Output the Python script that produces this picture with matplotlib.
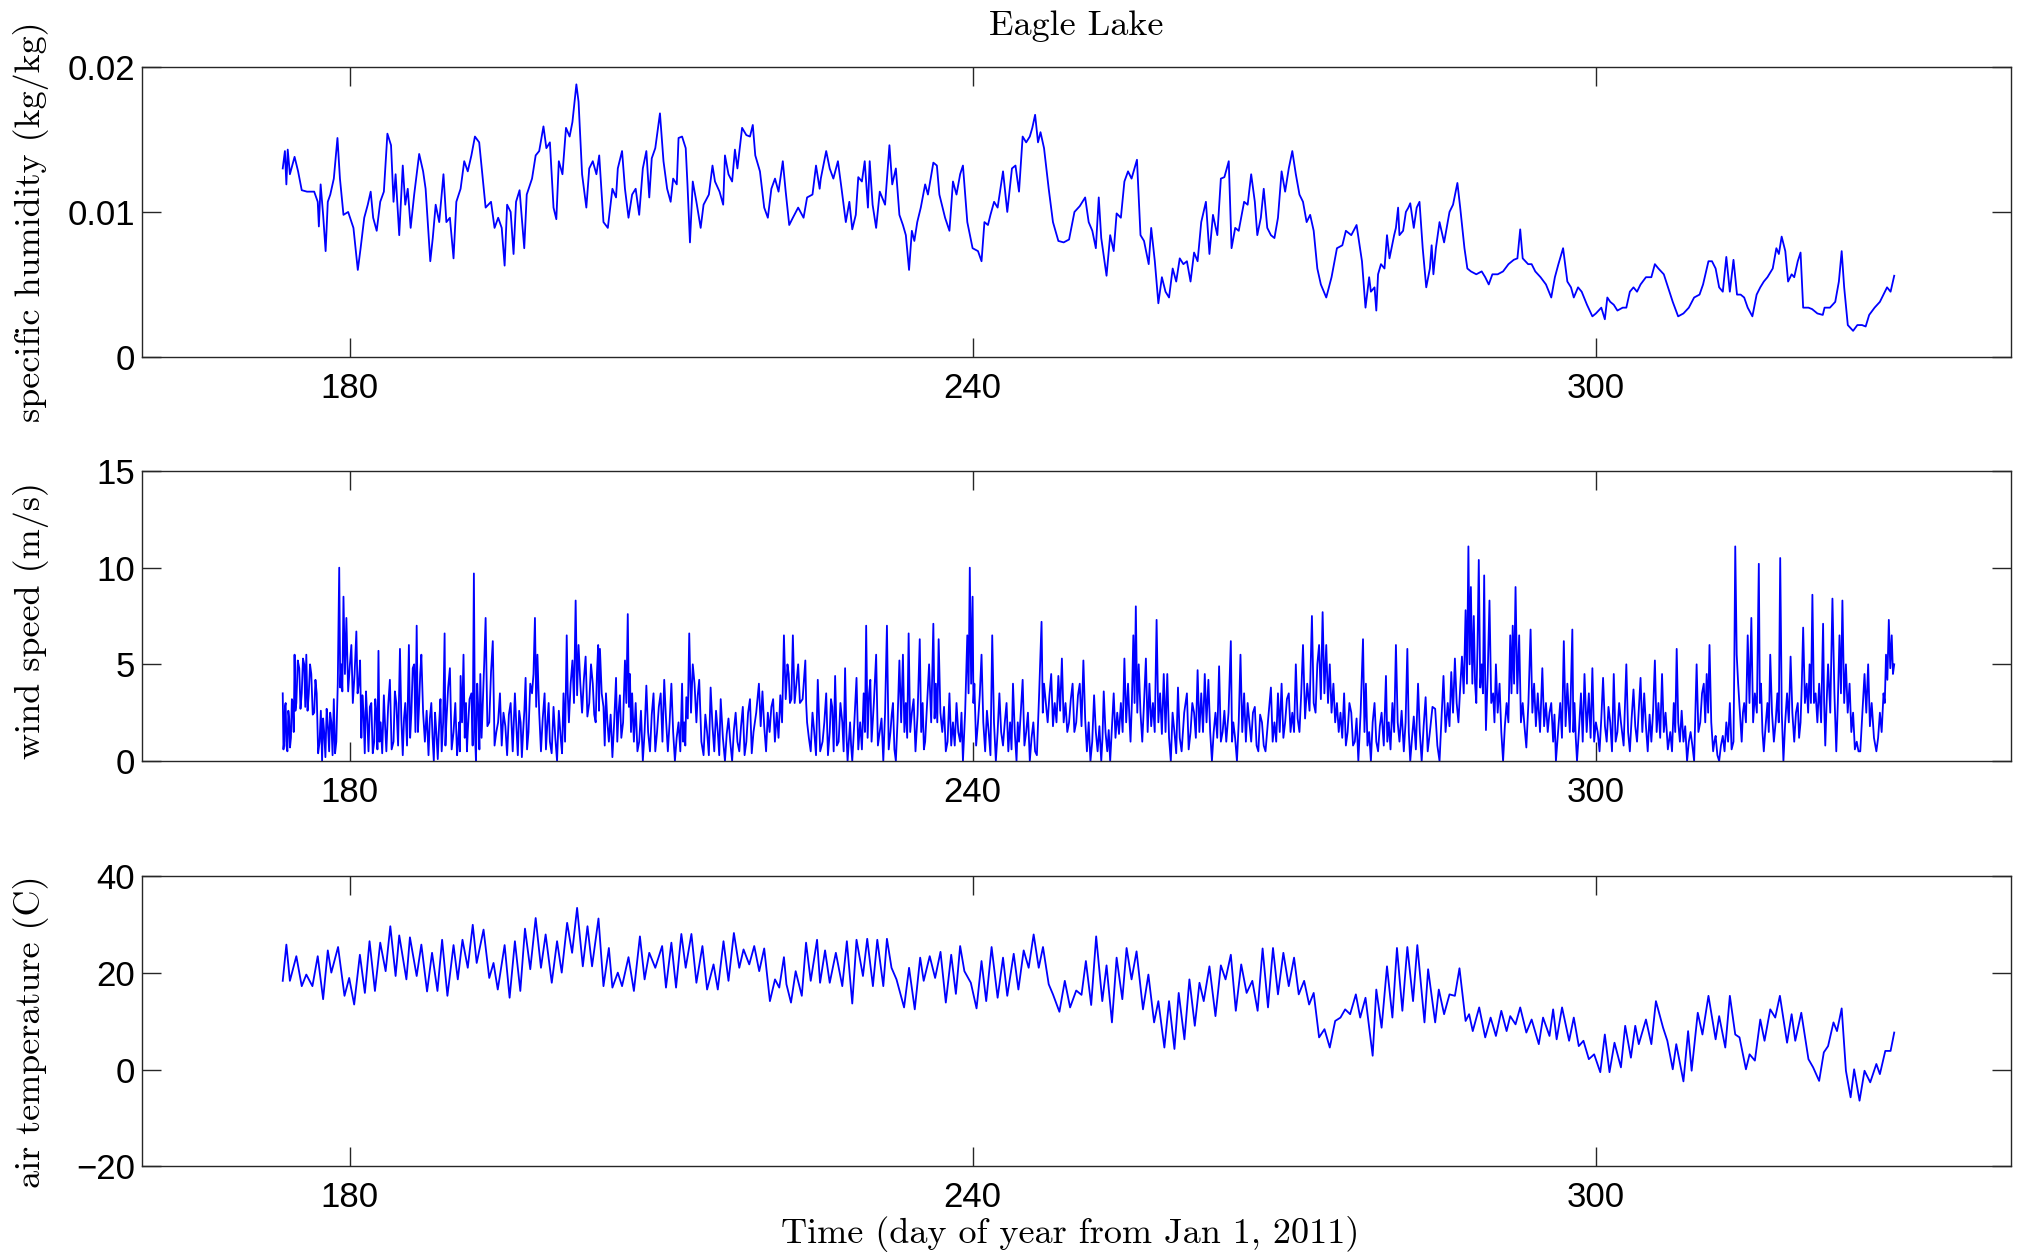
import matplotlib
matplotlib.use('Agg')
import matplotlib.pyplot as plt
import numpy as np

# specific humidity, (day of year, g/kg)
humidity_obs = [
    (173.56, 13.0), (173.77, 14.2), (173.91, 11.9), (174.04, 14.3), (174.25, 12.6), (174.70, 13.8),
    (175.04, 12.8), (175.39, 11.5), (175.90, 11.4), (176.59, 11.4), (176.93, 10.7), (177.04, 9.0),
    (177.21, 11.9), (177.45, 9.8), (177.69, 7.3), (177.90, 10.7), (178.14, 11.2), (178.48, 12.3),
    (178.83, 15.1), (179.07, 12.3), (179.41, 9.8), (179.86, 10.0), (180.37, 8.9), (180.79, 6.0),
    (181.06, 7.5), (181.41, 9.6), (181.75, 10.5), (182.03, 11.4), (182.27, 9.6), (182.61, 8.7),
    (182.95, 10.7), (183.30, 11.4), (183.64, 15.4), (183.99, 14.6), (184.23, 10.7), (184.43, 12.6),
    (184.78, 8.4), (185.12, 13.2), (185.36, 10.5), (185.60, 11.6), (185.88, 8.9), (186.22, 11.2),
    (186.70, 14.0), (187.08, 12.8), (187.32, 11.6), (187.77, 6.6), (188.01, 8.2), (188.29, 10.5),
    (188.63, 9.3), (189.04, 12.6), (189.32, 9.3), (189.66, 9.6), (190.01, 6.8), (190.28, 10.7),
    (190.69, 11.6), (191.04, 13.5), (191.38, 12.8), (191.73, 13.9), (192.07, 15.2), (192.48, 14.8),
    (192.76, 12.8), (193.10, 10.3), (193.62, 10.7), (193.96, 8.9), (194.31, 9.6), (194.65, 8.9),
    (194.93, 6.3), (195.17, 10.5), (195.51, 10.0), (195.79, 7.1), (196.03, 10.7), (196.37, 11.5),
    (196.82, 7.5), (197.06, 11.2), (197.57, 12.3), (197.92, 13.9), (198.26, 14.2), (198.67, 15.9),
    (198.95, 14.4), (199.29, 14.8), (199.64, 10.3), (199.91, 9.5), (200.15, 13.5), (200.50, 12.6),
    (200.84, 15.8), (201.19, 15.2), (201.46, 16.2), (201.84, 18.8), (202.05, 17.6), (202.39, 12.6),
    (202.80, 10.3), (203.08, 13.0), (203.42, 13.5), (203.77, 12.6), (204.04, 13.9), (204.45, 9.3),
    (204.87, 8.9), (205.31, 11.6), (205.66, 11.0), (205.83, 13.0), (206.24, 14.2), (206.52, 11.6),
    (206.86, 9.6), (207.21, 11.2), (207.55, 11.6), (207.89, 9.8), (208.24, 13.0), (208.58, 14.2),
    (208.86, 11.0), (209.10, 13.7), (209.44, 14.4), (209.89, 16.8), (210.23, 13.5), (210.58, 11.6),
    (210.92, 10.7), (211.16, 12.3), (211.51, 11.9), (211.68, 15.1), (212.02, 15.2), (212.37, 14.4),
    (212.54, 11.9), (212.78, 7.9), (213.05, 12.1), (213.40, 10.7), (213.81, 8.9), (214.09, 10.5),
    (214.60, 11.2), (214.95, 13.2), (215.19, 12.1), (215.63, 11.4), (215.98, 10.5), (216.15, 13.9),
    (216.49, 12.6), (216.84, 12.1), (217.11, 14.3), (217.35, 13.0), (217.80, 15.8), (218.21, 15.3),
    (218.56, 15.2), (218.83, 16.0), (219.07, 13.9), (219.52, 12.8), (219.93, 10.3), (220.28, 9.6),
    (220.62, 11.6), (220.97, 12.3), (221.31, 11.4), (221.72, 13.5), (222.00, 11.4), (222.34, 9.1),
    (222.69, 9.6), (223.20, 10.3), (223.72, 9.6), (224.06, 11.0), (224.58, 11.2), (224.92, 13.2),
    (225.27, 11.6), (225.38, 12.3), (225.90, 14.2), (226.24, 13.0), (226.59, 12.3), (227.03, 13.5),
    (227.38, 11.6), (227.79, 9.3), (228.13, 10.7), (228.41, 8.8), (228.75, 9.8), (228.99, 12.4),
    (229.34, 12.1), (229.61, 13.5), (229.92, 10.3), (230.09, 13.5), (230.37, 10.5), (230.71, 8.9),
    (231.06, 11.4), (231.57, 10.5), (231.99, 14.6), (232.26, 11.9), (232.61, 13.0), (232.95, 9.8),
    (233.29, 9.1), (233.57, 8.4), (233.88, 6.0), (234.15, 8.7), (234.39, 8.0), (234.67, 9.3),
    (235.01, 10.3), (235.43, 11.9), (235.70, 11.2), (236.22, 13.4), (236.56, 13.2), (236.80, 11.2),
    (237.35, 9.6), (237.77, 8.7), (238.11, 12.1), (238.45, 11.2), (238.80, 12.6), (239.07, 13.2),
    (239.49, 9.3), (240.00, 7.5), (240.52, 7.3), (240.86, 6.6), (241.14, 9.3), (241.48, 9.1),
    (241.72, 9.8), (242.07, 10.7), (242.41, 10.3), (242.93, 12.8), (243.34, 10.0), (243.79, 13.0),
    (244.13, 13.2), (244.47, 11.4), (244.82, 15.2), (245.16, 14.8), (245.51, 15.2), (245.75, 15.8),
    (246.02, 16.7), (246.30, 14.8), (246.54, 15.5), (246.88, 14.4), (247.33, 11.6), (247.74, 9.3),
    (248.26, 8.0), (248.77, 7.9), (249.29, 8.1), (249.81, 10.0), (250.32, 10.4), (250.84, 11.0),
    (251.18, 9.3), (251.53, 8.7), (251.87, 7.5), (252.15, 11.0), (252.39, 8.2), (252.90, 5.6),
    (253.25, 8.4), (253.59, 7.3), (253.87, 9.9), (254.28, 9.6), (254.62, 12.1), (254.97, 12.8),
    (255.31, 12.3), (255.83, 13.6), (256.17, 8.4), (256.51, 8.0), (256.96, 6.4), (257.20, 8.9),
    (257.55, 6.6), (257.89, 3.7), (258.23, 5.5), (258.58, 4.5), (258.92, 4.1), (259.27, 6.1),
    (259.61, 5.2), (259.95, 6.8), (260.30, 6.4), (260.64, 6.6), (260.99, 5.2), (261.33, 7.2),
    (261.67, 6.6), (262.02, 9.3), (262.47, 10.7), (262.81, 7.1), (263.15, 9.8), (263.57, 8.4),
    (263.91, 12.3), (264.25, 12.4), (264.67, 13.5), (264.94, 7.5), (265.29, 8.9), (265.63, 8.7),
    (266.15, 10.7), (266.49, 10.5), (266.83, 12.6), (267.18, 10.7), (267.42, 8.4), (267.76, 9.6),
    (268.04, 11.6), (268.38, 8.9), (268.73, 8.4), (269.07, 8.2), (269.41, 9.6), (269.76, 12.8),
    (270.10, 11.4), (270.45, 13.0), (270.79, 14.2), (271.13, 12.6), (271.48, 11.2), (271.82, 10.7),
    (272.17, 9.3), (272.51, 9.8), (272.85, 8.7), (273.20, 6.1), (273.54, 5.0), (274.06, 4.1),
    (274.57, 5.5), (275.09, 7.5), (275.61, 7.7), (275.95, 8.7), (276.47, 8.4), (276.98, 9.1),
    (277.50, 6.6), (277.84, 3.4), (278.19, 5.5), (278.36, 4.5), (278.71, 4.8), (278.88, 3.2),
    (279.05, 5.7), (279.33, 6.4), (279.67, 6.1), (279.91, 8.4), (280.15, 6.8), (280.60, 8.4),
    (280.77, 8.9), (280.98, 10.3), (281.11, 8.4), (281.46, 8.7), (281.73, 10.0), (281.97, 10.3),
    (282.15, 10.6), (282.49, 8.9), (282.77, 10.3), (283.04, 10.7), (283.35, 7.5), (283.69, 4.8),
    (284.04, 6.1), (284.21, 7.7), (284.38, 5.7), (284.62, 7.5), (284.97, 9.3), (285.41, 7.9),
    (285.93, 10.0), (286.27, 10.5), (286.69, 12.0), (286.96, 10.3), (287.37, 7.5), (287.65, 6.1),
    (287.99, 5.9), (288.51, 5.7), (289.03, 5.9), (289.37, 5.5), (289.71, 5.0), (290.06, 5.7),
    (290.57, 5.7), (291.09, 5.9), (291.61, 6.4), (292.12, 6.7), (292.47, 6.8), (292.74, 8.8),
    (292.98, 6.8), (293.50, 6.4), (293.84, 6.4), (294.19, 5.9), (294.70, 5.5), (295.22, 5.0),
    (295.73, 4.1), (296.08, 5.5), (296.42, 6.4), (296.87, 7.5), (297.28, 5.2), (297.63, 4.8),
    (297.90, 4.1), (298.31, 4.8), (298.66, 4.5), (299.17, 3.6), (299.69, 2.8), (300.03, 3.0),
    (300.55, 3.4), (300.89, 2.6), (301.13, 4.1), (301.41, 3.8), (301.75, 3.6), (302.10, 3.2),
    (302.61, 3.4), (302.96, 3.4), (303.30, 4.5), (303.65, 4.8), (303.99, 4.5), (304.33, 5.0),
    (304.85, 5.5), (305.37, 5.5), (305.71, 6.4), (306.05, 6.1), (306.57, 5.7), (306.98, 4.8),
    (307.43, 3.8), (307.95, 2.8), (308.46, 3.0), (308.98, 3.4), (309.49, 4.1), (310.01, 4.3),
    (310.35, 5.0), (310.87, 6.6), (311.21, 6.6), (311.56, 6.1), (311.90, 4.8), (312.25, 4.5),
    (312.59, 6.9), (312.93, 4.5), (313.28, 6.7), (313.62, 4.3), (313.97, 4.3), (314.31, 4.1),
    (314.65, 3.4), (315.10, 2.8), (315.51, 4.3), (315.86, 4.8), (316.20, 5.2), (316.55, 5.5),
    (317.06, 6.1), (317.41, 7.5), (317.65, 7.1), (317.92, 8.3), (318.27, 7.3), (318.54, 5.2),
    (318.88, 5.7), (319.13, 5.5), (319.47, 6.6), (319.74, 7.2), (319.99, 3.4), (320.50, 3.4),
    (320.85, 3.3), (321.36, 3.0), (321.88, 2.9), (322.05, 3.4), (322.57, 3.4), (323.08, 3.8),
    (323.43, 5.2), (323.70, 7.3), (323.94, 4.8), (324.29, 2.2), (324.80, 1.8), (325.21, 2.2),
    (325.66, 2.2), (326.01, 2.1), (326.35, 2.9), (326.87, 3.4), (327.38, 3.8), (327.73, 4.3),
    (328.07, 4.8), (328.41, 4.5), (328.76, 5.6),
]

# wind speed, (day of year, m/s)
wind_obs = [
    (173.56, 3.5), (173.63, 0.6), (173.70, 1.0), (173.77, 2.8), (173.84, 3.0), (173.92, 0.8),
    (174.01, 0.5), (174.10, 2.6), (174.18, 2.2), (174.26, 0.7), (174.35, 1.2), (174.44, 3.2),
    (174.53, 3.0), (174.62, 1.5), (174.70, 5.5), (174.78, 2.6), (174.87, 3.0), (175.01, 5.2),
    (175.15, 4.8), (175.27, 2.7), (175.39, 3.5), (175.51, 5.3), (175.63, 5.0), (175.73, 2.8),
    (175.83, 5.5), (175.95, 2.6), (176.07, 3.5), (176.19, 5.0), (176.31, 4.5), (176.45, 2.4),
    (176.59, 2.5), (176.71, 4.2), (176.83, 3.5), (176.97, 0.4), (177.11, 1.0), (177.23, 2.6),
    (177.35, 0.0), (177.45, 2.2), (177.55, 1.5), (177.67, 0.2), (177.79, 2.7), (177.91, 1.8),
    (178.03, 0.5), (178.13, 2.5), (178.24, 2.0), (178.36, 0.3), (178.48, 3.2), (178.60, 0.4),
    (178.72, 1.0), (178.86, 4.0), (179.00, 10.0), (179.10, 3.8), (179.20, 5.0), (179.30, 3.6),
    (179.41, 8.5), (179.55, 4.5), (179.69, 7.4), (179.86, 3.6), (180.03, 5.0), (180.17, 6.0),
    (180.31, 3.0), (180.48, 4.5), (180.65, 6.7), (180.77, 3.5), (180.89, 4.0), (181.01, 5.2),
    (181.13, 1.2), (181.23, 3.4), (181.34, 2.5), (181.46, 0.4), (181.58, 3.6), (181.70, 2.2),
    (181.82, 0.5), (181.95, 2.8), (182.09, 3.0), (182.23, 0.4), (182.37, 1.0), (182.47, 3.2),
    (182.58, 2.5), (182.68, 0.6), (182.78, 5.7), (182.88, 1.0), (182.99, 2.0), (183.14, 0.4),
    (183.30, 3.4), (183.42, 1.8), (183.54, 0.5), (183.71, 2.8), (183.88, 4.2), (184.05, 0.6),
    (184.23, 1.0), (184.36, 3.6), (184.50, 3.0), (184.67, 0.8), (184.85, 5.8), (184.98, 2.2),
    (185.12, 0.3), (185.24, 2.2), (185.36, 3.0), (185.53, 0.8), (185.71, 6.0), (185.83, 1.2),
    (185.95, 2.5), (186.08, 4.8), (186.22, 5.0), (186.34, 1.5), (186.46, 7.0), (186.58, 1.5),
    (186.70, 3.0), (186.80, 4.5), (186.91, 5.5), (187.08, 2.5), (187.25, 1.0), (187.42, 2.6),
    (187.60, 0.3), (187.73, 2.2), (187.87, 3.0), (187.99, 1.2), (188.11, 0.0), (188.23, 2.5),
    (188.35, 1.5), (188.49, 0.1), (188.63, 2.0), (188.75, 3.2), (188.87, 0.5), (189.01, 2.0),
    (189.15, 6.6), (189.23, 0.8), (189.32, 2.0), (189.49, 3.8), (189.66, 4.8), (189.83, 0.6),
    (190.01, 1.5), (190.18, 3.0), (190.35, 0.3), (190.45, 1.0), (190.56, 2.0), (190.62, 0.5),
    (190.69, 4.4), (190.83, 2.0), (190.97, 5.5), (191.09, 1.2), (191.21, 3.0), (191.30, 0.5),
    (191.38, 1.5), (191.55, 3.2), (191.73, 3.5), (191.85, 0.8), (191.97, 9.7), (192.07, 1.5),
    (192.17, 0.0), (192.29, 4.0), (192.41, 2.5), (192.50, 0.6), (192.59, 4.5), (192.71, 1.2),
    (192.83, 3.0), (192.96, 5.0), (193.10, 7.4), (193.27, 1.8), (193.45, 2.0), (193.62, 4.6),
    (193.79, 6.2), (193.96, 0.8), (194.13, 1.5), (194.30, 2.0), (194.48, 3.5), (194.65, 0.8),
    (194.82, 2.5), (195.00, 1.8), (195.17, 0.3), (195.34, 2.4), (195.51, 3.0), (195.71, 0.5),
    (195.92, 3.5), (196.06, 1.8), (196.20, 0.3), (196.33, 2.6), (196.47, 2.0), (196.59, 0.2),
    (196.71, 1.5), (196.83, 2.6), (196.95, 4.3), (197.09, 0.6), (197.23, 1.5), (197.40, 4.0),
    (197.57, 3.5), (197.71, 4.5), (197.85, 7.4), (197.97, 2.8), (198.09, 5.5), (198.26, 2.5),
    (198.43, 0.5), (198.60, 2.2), (198.78, 3.5), (198.91, 0.6), (199.05, 2.0), (199.17, 3.0),
    (199.29, 1.0), (199.46, 0.4), (199.64, 2.8), (199.81, 1.2), (199.98, 0.0), (200.15, 2.6),
    (200.33, 1.2), (200.46, 0.4), (200.60, 3.5), (200.75, 1.0), (200.91, 6.5), (201.01, 3.5),
    (201.12, 2.0), (201.29, 4.0), (201.46, 5.2), (201.61, 3.0), (201.77, 8.3), (201.91, 3.4),
    (202.05, 6.0), (202.22, 4.0), (202.39, 2.5), (202.56, 4.2), (202.73, 5.4), (202.90, 2.3),
    (203.08, 3.0), (203.25, 5.0), (203.42, 4.0), (203.56, 2.4), (203.70, 2.0), (203.82, 4.5),
    (203.94, 6.0), (204.02, 2.6), (204.11, 5.8), (204.28, 3.5), (204.45, 2.8), (204.57, 0.8),
    (204.69, 3.5), (204.83, 2.0), (204.97, 1.0), (205.14, 2.4), (205.31, 0.2), (205.48, 2.0),
    (205.66, 4.3), (205.78, 1.0), (205.90, 2.5), (206.03, 3.4), (206.17, 1.2), (206.34, 2.0),
    (206.52, 5.2), (206.65, 3.0), (206.79, 7.6), (206.90, 2.8), (207.00, 4.5), (207.10, 1.5),
    (207.21, 3.5), (207.38, 1.0), (207.55, 3.0), (207.72, 0.5), (207.89, 1.0), (208.06, 2.6),
    (208.24, 0.0), (208.41, 1.5), (208.58, 3.9), (208.75, 1.5), (208.93, 0.5), (209.10, 2.4),
    (209.27, 3.5), (209.44, 0.5), (209.61, 1.5), (209.78, 2.8), (209.96, 3.5), (210.13, 1.0),
    (210.30, 4.2), (210.47, 2.2), (210.65, 0.5), (210.82, 2.0), (210.99, 4.0), (211.16, 1.5),
    (211.33, 0.0), (211.50, 1.2), (211.68, 2.0), (211.85, 0.5), (212.02, 4.0), (212.12, 1.0),
    (212.23, 2.0), (212.33, 0.8), (212.43, 3.3), (212.57, 2.2), (212.71, 6.6), (212.88, 2.5),
    (213.05, 5.0), (213.22, 4.0), (213.40, 2.0), (213.53, 3.4), (213.67, 4.2), (213.88, 1.0),
    (214.09, 0.3), (214.26, 2.4), (214.43, 1.5), (214.60, 0.3), (214.77, 3.8), (214.95, 1.8),
    (215.12, 0.5), (215.29, 2.6), (215.46, 1.5), (215.60, 0.3), (215.74, 3.2), (215.95, 1.2),
    (216.15, 0.0), (216.32, 1.4), (216.49, 2.2), (216.66, 1.0), (216.84, 0.0), (217.01, 1.6),
    (217.18, 2.5), (217.35, 1.0), (217.53, 0.5), (217.70, 1.8), (217.87, 2.8), (218.04, 0.3),
    (218.21, 1.0), (218.38, 2.5), (218.56, 3.2), (218.73, 0.4), (218.90, 1.5), (219.16, 2.5),
    (219.42, 4.0), (219.59, 1.8), (219.76, 3.6), (219.93, 1.8), (220.11, 0.5), (220.28, 2.5),
    (220.45, 1.5), (220.62, 2.8), (220.79, 3.2), (220.96, 1.0), (221.14, 2.5), (221.31, 1.2),
    (221.48, 3.4), (221.65, 2.0), (221.83, 6.5), (222.00, 3.2), (222.17, 5.0), (222.29, 4.5),
    (222.41, 3.0), (222.55, 3.2), (222.69, 6.5), (222.86, 3.0), (223.03, 4.0), (223.20, 5.0),
    (223.37, 3.0), (223.63, 3.2), (223.89, 5.2), (223.97, 3.0), (224.06, 2.0), (224.23, 1.2),
    (224.41, 0.5), (224.58, 2.5), (224.75, 1.5), (224.92, 0.3), (225.09, 4.2), (225.32, 0.5),
    (225.55, 1.0), (225.72, 2.0), (225.90, 3.5), (226.07, 0.3), (226.24, 1.5), (226.36, 3.2),
    (226.48, 2.8), (226.62, 0.5), (226.76, 4.4), (226.93, 0.8), (227.10, 1.0), (227.27, 3.0),
    (227.45, 2.0), (227.58, 0.5), (227.72, 4.8), (227.84, 1.5), (227.96, 0.0), (228.08, 1.0),
    (228.20, 2.0), (228.30, 0.8), (228.41, 0.0), (228.61, 2.0), (228.82, 4.3), (228.99, 0.6),
    (229.17, 2.0), (229.34, 0.6), (229.51, 3.5), (229.63, 1.5), (229.75, 7.0), (229.89, 1.2),
    (230.03, 3.5), (230.15, 4.2), (230.27, 1.0), (230.49, 3.0), (230.71, 5.5), (230.88, 0.8),
    (231.06, 1.5), (231.23, 2.2), (231.40, 0.0), (231.57, 2.5), (231.75, 7.0), (231.92, 0.6),
    (232.09, 1.5), (232.21, 2.4), (232.33, 3.0), (232.47, 0.6), (232.61, 0.0), (232.78, 2.2),
    (232.95, 5.2), (233.12, 2.0), (233.29, 5.5), (233.43, 1.5), (233.57, 3.0), (233.70, 1.2),
    (233.84, 6.6), (233.99, 1.5), (234.15, 2.5), (234.32, 3.2), (234.50, 0.5), (234.70, 2.4),
    (234.91, 6.3), (235.05, 1.5), (235.19, 3.0), (235.31, 0.6), (235.43, 1.0), (235.62, 3.0),
    (235.81, 5.0), (236.01, 2.0), (236.22, 7.1), (236.34, 2.2), (236.46, 4.0), (236.60, 2.0),
    (236.73, 6.3), (236.90, 2.5), (237.08, 1.5), (237.25, 2.8), (237.42, 0.5), (237.59, 1.0),
    (237.77, 3.5), (237.94, 0.8), (238.11, 2.0), (238.28, 0.8), (238.45, 3.0), (238.62, 1.5),
    (238.80, 1.0), (238.93, 2.5), (239.07, 0.0), (239.28, 2.5), (239.49, 6.5), (239.61, 3.5),
    (239.73, 10.0), (239.86, 4.0), (240.00, 8.5), (240.08, 3.0), (240.17, 4.0), (240.34, 0.8),
    (240.52, 2.0), (240.69, 3.4), (240.86, 5.5), (241.03, 2.0), (241.21, 0.5), (241.38, 2.6),
    (241.55, 1.5), (241.72, 0.3), (241.89, 6.5), (242.06, 2.0), (242.24, 0.0), (242.41, 1.5),
    (242.58, 3.5), (242.75, 1.5), (242.93, 0.8), (243.10, 2.0), (243.27, 3.0), (243.44, 0.5),
    (243.61, 2.0), (243.75, 0.6), (243.89, 4.0), (244.06, 1.5), (244.23, 0.0), (244.35, 2.0),
    (244.47, 1.0), (244.64, 2.5), (244.82, 4.2), (244.99, 0.8), (245.16, 1.5), (245.33, 2.5),
    (245.51, 0.0), (245.68, 1.2), (245.85, 2.0), (246.02, 0.5), (246.19, 0.3), (246.41, 3.5),
    (246.64, 7.2), (246.76, 2.5), (246.88, 4.0), (247.05, 3.0), (247.23, 2.0), (247.40, 3.4),
    (247.57, 4.5), (247.74, 1.8), (247.91, 3.0), (248.08, 2.0), (248.26, 4.4), (248.43, 2.6),
    (248.60, 5.3), (248.77, 2.0), (248.95, 3.0), (249.12, 1.5), (249.29, 2.0), (249.46, 3.2),
    (249.63, 4.0), (249.80, 1.5), (249.98, 2.0), (250.15, 3.4), (250.32, 4.0), (250.49, 1.8),
    (250.67, 5.2), (250.84, 2.2), (251.01, 0.5), (251.18, 2.0), (251.35, 0.0), (251.52, 1.0),
    (251.70, 3.4), (251.87, 1.5), (252.04, 0.5), (252.21, 1.8), (252.39, 0.0), (252.51, 1.2),
    (252.63, 3.6), (252.80, 1.5), (252.97, 0.5), (253.11, 1.6), (253.25, 0.0), (253.42, 1.8),
    (253.59, 3.5), (253.76, 1.2), (253.93, 2.5), (254.10, 1.4), (254.28, 3.0), (254.45, 1.5),
    (254.62, 5.3), (254.79, 2.0), (254.97, 4.0), (255.09, 2.4), (255.21, 1.0), (255.34, 3.0),
    (255.48, 6.5), (255.60, 3.0), (255.72, 8.0), (255.86, 2.5), (256.00, 5.0), (256.17, 2.5),
    (256.34, 1.0), (256.51, 3.0), (256.69, 5.3), (256.86, 1.5), (257.03, 4.0), (257.20, 1.8),
    (257.37, 3.0), (257.54, 1.5), (257.72, 7.3), (257.89, 2.0), (258.06, 3.5), (258.23, 1.4),
    (258.41, 4.5), (258.58, 1.5), (258.75, 4.5), (258.92, 1.2), (259.09, 0.0), (259.26, 2.5),
    (259.44, 1.5), (259.61, 0.4), (259.78, 3.8), (259.95, 1.2), (260.13, 0.5), (260.38, 2.5),
    (260.64, 3.5), (260.81, 0.6), (260.99, 1.5), (261.16, 3.0), (261.33, 2.5), (261.50, 1.2),
    (261.67, 4.7), (261.84, 1.5), (262.02, 3.5), (262.19, 1.5), (262.36, 4.5), (262.53, 2.0),
    (262.71, 4.2), (262.88, 1.5), (263.05, 0.0), (263.22, 1.5), (263.39, 2.5), (263.56, 1.2),
    (263.74, 4.9), (263.91, 1.0), (264.08, 1.5), (264.25, 2.6), (264.43, 1.0), (264.65, 2.5),
    (264.87, 6.2), (264.99, 1.0), (265.11, 2.0), (265.28, 1.2), (265.46, 0.0), (265.63, 2.0),
    (265.80, 5.5), (265.97, 1.5), (266.15, 3.5), (266.32, 1.0), (266.49, 3.0), (266.66, 2.0),
    (266.83, 1.0), (267.00, 2.5), (267.18, 2.8), (267.35, 0.8), (267.52, 0.5), (267.69, 2.4),
    (267.87, 2.0), (268.04, 0.8), (268.21, 0.5), (268.47, 2.2), (268.73, 3.8), (268.90, 1.0),
    (269.07, 2.0), (269.24, 1.0), (269.41, 3.5), (269.58, 1.5), (269.76, 4.0), (269.93, 1.2),
    (270.10, 2.0), (270.27, 3.2), (270.45, 3.5), (270.62, 1.5), (270.79, 2.5), (270.96, 1.5),
    (271.13, 5.0), (271.30, 2.2), (271.48, 1.5), (271.65, 3.5), (271.82, 6.0), (272.02, 2.2),
    (272.23, 4.0), (272.45, 2.6), (272.68, 7.5), (272.85, 3.0), (273.03, 2.5), (273.20, 5.0),
    (273.37, 6.0), (273.54, 3.2), (273.71, 7.7), (273.88, 3.5), (274.06, 6.0), (274.23, 3.0),
    (274.40, 5.0), (274.57, 2.5), (274.75, 4.0), (274.92, 2.0), (275.09, 3.0), (275.26, 1.5),
    (275.43, 2.5), (275.60, 1.2), (275.78, 3.5), (275.95, 0.8), (276.12, 1.5), (276.29, 3.0),
    (276.47, 2.5), (276.64, 0.8), (276.81, 1.0), (276.98, 2.2), (277.15, 0.0), (277.37, 2.5),
    (277.60, 6.3), (277.74, 1.5), (277.88, 4.0), (278.03, 0.8), (278.19, 1.5), (278.36, 0.0),
    (278.53, 2.0), (278.71, 3.0), (278.88, 1.0), (279.05, 0.5), (279.22, 1.8), (279.39, 2.5),
    (279.60, 0.8), (279.81, 4.4), (279.94, 1.0), (280.08, 2.0), (280.25, 0.6), (280.43, 3.0),
    (280.60, 1.5), (280.77, 6.0), (280.94, 2.0), (281.11, 1.0), (281.32, 2.6), (281.53, 0.5),
    (281.70, 2.0), (281.87, 5.8), (282.01, 1.5), (282.15, 0.0), (282.32, 1.2), (282.49, 2.3),
    (282.69, 0.6), (282.90, 4.0), (283.07, 1.5), (283.25, 0.0), (283.44, 1.8), (283.63, 3.3),
    (283.83, 0.5), (284.04, 1.5), (284.29, 2.8), (284.55, 2.7), (284.76, 0.8), (284.97, 0.0),
    (285.16, 2.2), (285.35, 4.4), (285.55, 1.5), (285.76, 3.0), (285.93, 1.8), (286.10, 4.6),
    (286.27, 2.5), (286.45, 5.3), (286.62, 3.0), (286.79, 2.0), (286.96, 3.8), (287.13, 5.4),
    (287.30, 3.5), (287.48, 7.8), (287.61, 4.0), (287.75, 11.1), (287.87, 5.0), (287.99, 9.0),
    (288.13, 4.0), (288.27, 7.5), (288.39, 4.0), (288.51, 3.0), (288.63, 6.0), (288.75, 10.4),
    (288.89, 3.8), (289.03, 5.0), (289.15, 3.5), (289.27, 9.6), (289.36, 4.5), (289.44, 1.6),
    (289.61, 4.5), (289.78, 8.3), (289.95, 3.0), (290.13, 3.5), (290.26, 2.0), (290.40, 5.0),
    (290.57, 2.5), (290.75, 4.0), (290.92, 1.5), (291.09, 0.0), (291.26, 1.8), (291.43, 3.0),
    (291.60, 2.0), (291.78, 6.5), (291.90, 3.5), (292.02, 7.0), (292.15, 4.0), (292.29, 9.0),
    (292.46, 3.5), (292.64, 6.5), (292.81, 2.0), (292.98, 3.0), (293.15, 1.8), (293.33, 0.7),
    (293.53, 3.0), (293.74, 6.8), (293.91, 2.5), (294.08, 4.0), (294.25, 1.8), (294.43, 3.5),
    (294.65, 1.5), (294.87, 4.8), (295.04, 1.8), (295.22, 3.0), (295.39, 1.5), (295.56, 2.5),
    (295.73, 3.0), (295.91, 1.0), (296.04, 2.4), (296.18, 0.0), (296.38, 1.5), (296.59, 3.0),
    (296.76, 1.2), (296.94, 6.2), (297.11, 1.8), (297.28, 4.0), (297.52, 1.5), (297.76, 6.8),
    (297.86, 1.5), (297.97, 3.0), (298.09, 1.2), (298.21, 0.0), (298.40, 1.6), (298.59, 3.5),
    (298.76, 1.0), (298.93, 4.5), (299.14, 1.5), (299.35, 3.5), (299.52, 1.2), (299.69, 4.8),
    (299.86, 1.0), (300.03, 2.0), (300.20, 1.5), (300.38, 0.5), (300.55, 2.2), (300.72, 4.3),
    (300.90, 1.8), (301.07, 1.0), (301.24, 2.8), (301.41, 2.0), (301.58, 0.5), (301.75, 4.5),
    (301.93, 1.0), (302.10, 1.5), (302.27, 3.0), (302.44, 2.0), (302.70, 0.8), (302.96, 5.0),
    (303.13, 1.5), (303.30, 0.5), (303.47, 2.2), (303.65, 3.7), (303.82, 1.8), (303.99, 1.0),
    (304.16, 2.6), (304.33, 4.3), (304.50, 1.5), (304.68, 3.5), (304.85, 1.8), (305.02, 0.5),
    (305.20, 2.4), (305.37, 1.0), (305.54, 2.6), (305.71, 5.2), (305.88, 1.5), (306.05, 3.0),
    (306.22, 1.2), (306.40, 4.5), (306.57, 1.5), (306.74, 2.5), (306.96, 0.6), (307.19, 1.5),
    (307.36, 0.5), (307.53, 3.0), (307.67, 1.5), (307.81, 5.8), (307.96, 2.0), (308.12, 1.0),
    (308.29, 2.6), (308.46, 1.0), (308.63, 1.8), (308.81, 0.0), (308.98, 1.0), (309.15, 1.5),
    (309.32, 0.8), (309.49, 0.0), (309.61, 2.5), (309.73, 5.0), (309.90, 1.5), (310.08, 2.0),
    (310.25, 3.5), (310.42, 4.0), (310.56, 2.0), (310.70, 4.5), (310.84, 2.5), (310.97, 6.0),
    (311.14, 2.0), (311.32, 0.5), (311.44, 1.0), (311.56, 1.3), (311.73, 0.3), (311.90, 0.0),
    (312.07, 0.8), (312.25, 1.3), (312.42, 0.5), (312.59, 2.0), (312.76, 1.0), (312.93, 3.0),
    (313.10, 0.6), (313.28, 1.0), (313.36, 5.0), (313.45, 11.1), (313.59, 5.5), (313.73, 4.0),
    (313.90, 2.5), (314.07, 1.0), (314.19, 2.5), (314.31, 3.0), (314.48, 2.0), (314.65, 6.5),
    (314.82, 3.0), (315.00, 7.4), (315.17, 2.0), (315.34, 3.5), (315.53, 2.5), (315.72, 10.2),
    (315.82, 3.0), (315.93, 4.0), (316.07, 1.5), (316.20, 0.5), (316.37, 1.8), (316.55, 3.0),
    (316.68, 1.5), (316.82, 5.5), (316.99, 2.5), (317.17, 1.0), (317.34, 2.0), (317.51, 3.5),
    (317.64, 2.0), (317.78, 10.5), (317.93, 2.5), (318.09, 0.0), (318.26, 2.0), (318.44, 3.5),
    (318.61, 2.0), (318.78, 5.4), (318.95, 2.5), (319.13, 1.0), (319.30, 2.5), (319.47, 3.0),
    (319.60, 1.2), (319.74, 2.0), (319.86, 4.0), (319.99, 6.9), (320.16, 3.0), (320.33, 4.0),
    (320.47, 2.5), (320.61, 5.0), (320.74, 3.0), (320.88, 8.6), (321.03, 3.0), (321.19, 3.5),
    (321.36, 2.0), (321.53, 4.0), (321.72, 2.0), (321.91, 7.1), (322.01, 3.0), (322.12, 0.8),
    (322.25, 3.0), (322.39, 5.0), (322.60, 2.5), (322.81, 8.4), (323.00, 3.5), (323.18, 0.5),
    (323.33, 3.0), (323.49, 6.5), (323.63, 3.5), (323.77, 8.3), (323.94, 3.0), (324.11, 5.0),
    (324.28, 2.5), (324.46, 4.0), (324.63, 1.5), (324.80, 2.5), (324.97, 0.6), (325.15, 1.0),
    (325.32, 0.5), (325.49, 0.5), (325.70, 2.5), (325.90, 4.5), (326.07, 2.5), (326.25, 5.0),
    (326.42, 1.8), (326.59, 3.0), (326.81, 1.2), (327.04, 0.5), (327.21, 1.2), (327.38, 2.5),
    (327.55, 1.5), (327.73, 3.5), (327.85, 3.0), (327.97, 5.5), (328.10, 4.2), (328.24, 7.3),
    (328.38, 4.8), (328.52, 6.5), (328.64, 4.5), (328.76, 5.0),
]

# air temperature, (day of year, deg C)
temperature_obs = [
    (173.56, 18.4), (173.91, 25.9), (174.25, 18.4), (174.87, 23.5), (175.39, 17.3), (175.83, 19.7),
    (176.42, 17.3), (176.93, 23.5), (177.45, 14.6), (177.90, 24.7), (178.24, 20.1), (178.89, 25.4),
    (179.51, 15.3), (179.96, 19.0), (180.44, 13.5), (180.99, 23.8), (181.47, 15.9), (181.92, 26.6),
    (182.44, 16.3), (182.95, 26.3), (183.47, 20.4), (183.92, 29.7), (184.43, 19.4), (184.78, 27.8),
    (185.47, 18.7), (185.81, 27.4), (186.46, 19.4), (186.91, 25.9), (187.46, 16.2), (187.94, 24.2),
    (188.46, 16.3), (188.91, 26.9), (189.42, 15.3), (190.01, 25.8), (190.42, 18.7), (190.87, 26.9),
    (191.38, 21.1), (191.86, 30.0), (192.24, 22.1), (192.90, 29.0), (193.45, 19.0), (193.86, 22.1),
    (194.27, 16.6), (194.93, 25.8), (195.41, 14.9), (195.92, 26.6), (196.44, 16.3), (196.89, 29.2),
    (197.40, 20.8), (197.92, 31.4), (198.43, 21.1), (198.88, 28.0), (199.47, 18.0), (199.98, 26.6),
    (200.43, 20.1), (200.95, 30.4), (201.43, 24.2), (201.91, 33.5), (202.46, 21.4), (202.91, 29.7),
    (203.35, 21.4), (203.97, 31.3), (204.45, 17.3), (204.97, 25.2), (205.31, 17.0), (205.83, 20.1),
    (206.24, 17.3), (206.86, 23.3), (207.38, 16.3), (207.96, 27.6), (208.41, 18.7), (208.86, 24.2),
    (209.44, 21.1), (210.10, 25.6), (210.47, 17.0), (210.99, 26.3), (211.44, 17.0), (211.95, 28.1),
    (212.37, 21.1), (212.92, 28.1), (213.40, 18.0), (213.98, 25.6), (214.43, 16.6), (215.05, 21.8),
    (215.46, 16.6), (216.01, 26.6), (216.49, 18.4), (217.01, 28.3), (217.53, 21.1), (217.94, 24.9),
    (218.49, 21.8), (218.97, 25.6), (219.45, 20.4), (219.93, 25.1), (220.48, 14.2), (220.97, 18.7),
    (221.38, 17.0), (221.83, 23.3), (222.07, 17.7), (222.51, 13.9), (222.96, 20.4), (223.55, 15.3),
    (223.96, 26.3), (224.41, 18.4), (225.02, 26.9), (225.31, 18.0), (225.79, 24.7), (226.24, 18.0),
    (226.83, 24.2), (227.45, 17.3), (227.89, 26.6), (228.41, 13.7), (228.82, 26.9), (229.44, 19.4),
    (229.85, 27.1), (230.40, 17.3), (230.82, 26.9), (231.40, 17.3), (231.75, 27.1), (232.19, 21.1),
    (232.67, 18.7), (233.40, 12.9), (233.88, 21.1), (234.43, 12.5), (234.95, 23.2), (235.29, 18.4),
    (235.87, 23.5), (236.39, 19.0), (236.91, 24.4), (237.42, 13.9), (237.94, 23.8), (238.39, 15.7),
    (238.80, 25.6), (239.21, 20.4), (239.83, 18.0), (240.38, 12.7), (240.86, 22.5), (241.31, 14.2),
    (241.83, 25.4), (242.41, 14.9), (242.93, 23.2), (243.34, 15.3), (243.96, 24.0), (244.41, 16.6),
    (244.92, 24.7), (245.40, 21.1), (245.88, 28.0), (246.37, 21.1), (246.78, 25.4), (247.33, 17.7),
    (247.74, 15.6), (248.36, 12.0), (248.88, 18.4), (249.39, 12.9), (249.98, 16.4), (250.49, 15.5),
    (250.91, 22.5), (251.42, 13.4), (251.90, 27.6), (252.49, 14.2), (252.90, 21.6), (253.42, 9.8),
    (253.87, 23.2), (254.42, 14.6), (254.83, 25.2), (255.31, 18.7), (255.79, 24.5), (256.41, 12.5),
    (256.93, 19.7), (257.48, 9.8), (257.89, 14.2), (258.47, 4.6), (258.92, 14.2), (259.44, 4.3),
    (259.85, 15.9), (260.40, 6.3), (260.88, 18.7), (261.40, 9.1), (261.85, 18.0), (262.26, 14.2),
    (262.81, 21.4), (263.39, 11.1), (263.91, 21.6), (264.36, 18.7), (264.87, 23.8), (265.35, 12.2),
    (265.87, 21.8), (266.39, 15.9), (266.94, 18.4), (267.45, 12.2), (267.93, 25.1), (268.45, 12.9),
    (268.93, 25.2), (269.41, 15.6), (269.93, 24.2), (270.45, 17.3), (270.96, 23.2), (271.41, 15.6),
    (271.93, 18.4), (272.41, 13.5), (272.85, 15.9), (273.37, 6.7), (273.89, 8.4), (274.40, 4.6),
    (274.92, 10.1), (275.43, 10.8), (275.88, 12.5), (276.36, 11.5), (276.91, 15.6), (277.33, 10.8),
    (277.84, 14.9), (278.53, 2.9), (278.88, 16.6), (279.39, 8.7), (279.91, 21.4), (280.43, 10.8),
    (280.87, 25.2), (281.39, 12.2), (281.87, 25.4), (282.42, 14.2), (282.83, 25.8), (283.52, 9.8),
    (283.87, 20.8), (284.55, 9.8), (284.90, 16.6), (285.41, 11.5), (285.93, 15.6), (286.45, 15.3),
    (286.89, 21.0), (287.48, 10.1), (287.82, 11.5), (288.17, 8.0), (288.79, 12.9), (289.37, 6.7),
    (289.89, 10.8), (290.40, 7.0), (290.92, 12.2), (291.43, 8.0), (291.78, 11.1), (292.29, 9.4),
    (292.74, 12.9), (293.33, 7.7), (293.84, 10.4), (294.53, 5.3), (294.94, 10.8), (295.56, 7.0),
    (295.91, 12.5), (296.25, 6.3), (296.77, 12.9), (297.45, 6.0), (297.90, 10.8), (298.38, 4.9),
    (298.83, 6.0), (299.35, 2.2), (299.86, 3.2), (300.45, -0.5), (300.89, 7.3), (301.34, -0.5),
    (301.82, 5.6), (302.44, 0.5), (302.85, 9.1), (303.40, 2.5), (303.82, 9.1), (304.16, 5.3),
    (304.85, 10.4), (305.37, 5.3), (305.81, 14.2), (306.50, 8.7), (306.91, 6.0), (307.43, 0.1),
    (307.77, 5.3), (308.46, -2.4), (308.91, 8.0), (309.25, -0.2), (309.84, 11.8), (310.29, 7.3),
    (310.87, 15.3), (311.56, 6.3), (311.90, 11.1), (312.49, 4.6), (312.93, 15.3), (313.45, 7.3),
    (313.86, 6.7), (314.48, 0.1), (314.83, 3.2), (315.34, 1.9), (315.86, 10.4), (316.27, 6.0),
    (316.82, 12.5), (317.30, 10.8), (317.75, 15.3), (318.44, 5.6), (318.88, 11.5), (319.23, 6.0),
    (319.81, 11.8), (320.50, 2.2), (320.95, 0.5), (321.53, -2.3), (321.98, 3.6), (322.39, 4.9),
    (322.91, 9.8), (323.25, 8.0), (323.70, 12.7), (324.11, -0.2), (324.56, -5.7), (324.90, 0.1),
    (325.42, -6.4), (325.90, -0.2), (326.45, -2.6), (327.04, 1.2), (327.38, -0.9), (327.90, 3.9),
    (328.41, 3.9), (328.76, 7.7),
]

hum_day, hum_gkg = np.array(humidity_obs).T
wind_day, wind_ms = np.array(wind_obs).T
temp_day, temp_c = np.array(temperature_obs).T

x_ticks = [180, 240, 300]
panels = [
    (hum_day, hum_gkg / 1000.0, 'specific humidity (kg/kg)', (0, 0.02), [0, 0.01, 0.02], ['0', '0.01', '0.02']),
    (wind_day, wind_ms, 'wind speed (m/s)', (0, 15), [0, 5, 10, 15], None),
    (temp_day, temp_c, 'air temperature (C)', (-20, 40), [-20, 0, 20, 40], None),
]

plt.rcParams['font.family'] = ['Liberation Sans', 'DejaVu Sans']
serif = 'cmr10'

fig = plt.figure(figsize=(20.19, 12.56), dpi=100)
left, width, height = 0.0703, 0.9257, 0.2309
bottoms = [0.7158, 0.3941, 0.0713]
label_y = [0.8232, 0.5056, 0.1783]

for (t, v, ylabel, ylim, yticks, yticklabels), b, ly in zip(panels, bottoms, label_y):
    ax = fig.add_axes([left, b, width, height])
    ax.plot(t, v, color='#0000ff', linewidth=1.3)
    ax.set_xlim(160, 340)
    ax.set_ylim(*ylim)
    ax.set_xticks(x_ticks)
    ax.set_yticks(yticks)
    if yticklabels:
        ax.set_yticklabels(yticklabels)
    ax.tick_params(direction='in', length=13.7, width=1.0, top=True, right=True,
                   labelsize=25, color='#262626')
    ax.tick_params(axis='x', pad=10.5)
    ax.tick_params(axis='y', pad=5)
    for s in ax.spines.values():
        s.set_linewidth(1.0)
        s.set_color('#262626')
    fig.text(0.0154, ly, ylabel, rotation=90, ha='center', va='center',
             fontsize=26, family=serif)

fig.text(0.5332, 0.979, 'Eagle Lake', ha='center', va='center', fontsize=26, family=serif)
fig.text(0.530, 0.0175, 'Time (day of year from Jan 1, 2011)', ha='center', va='center',
         fontsize=26, family=serif)

fig.savefig('out.png', dpi=100)
